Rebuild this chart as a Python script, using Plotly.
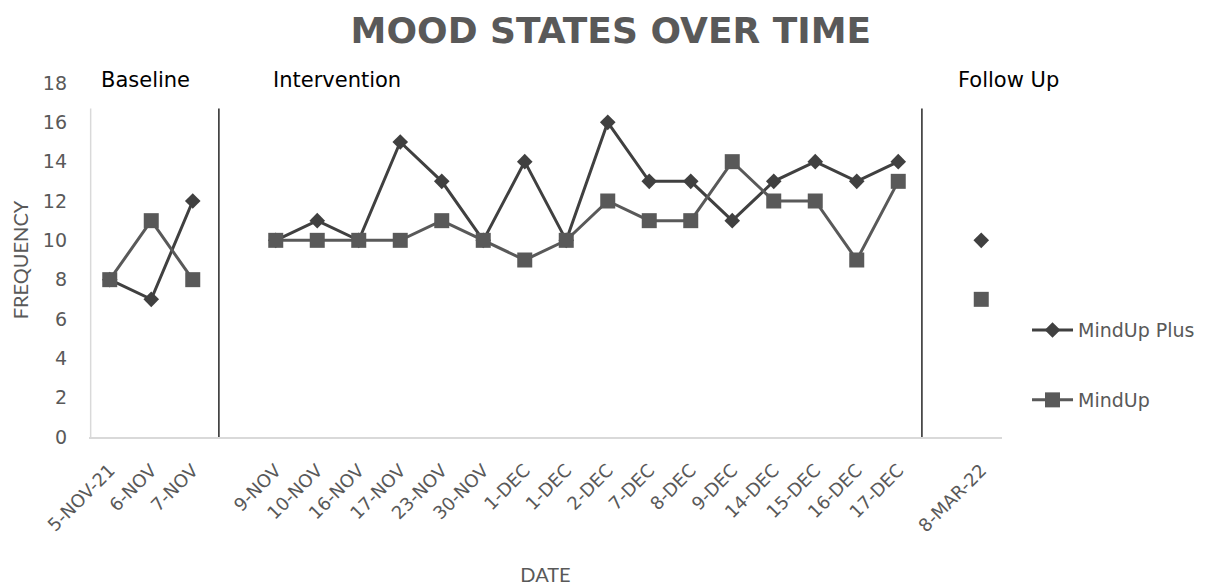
import plotly.graph_objects as go

# Categories (blank entries are the gaps between phases)
dates = ["5-NOV-21", "6-NOV", "7-NOV", "",
         "9-NOV", "10-NOV", "16-NOV", "17-NOV", "23-NOV", "30-NOV", "1-DEC", "1-DEC",
         "2-DEC", "7-DEC", "8-DEC", "9-DEC", "14-DEC", "15-DEC", "16-DEC", "17-DEC", "",
         "8-MAR-22"]

mindup_plus = [8, 7, 12, None,
               10, 11, 10, 15, 13, 10, 14, 10, 16, 13, 13, 11, 13, 14, 13, 14, None,
               10]
mindup = [8, 11, 8, None,
          10, 10, 10, 10, 11, 10, 9, 10, 12, 11, 11, 14, 12, 12, 9, 13, None,
          7]

phases = ["Baseline", "Intervention", "Follow Up"]
phase_label_x = [0.0624, 0.2716, 1.0066]   # paper fractions
phase_dividers = [2.63, 19.57]              # in category-index units

y_ticks = list(range(0, 19, 2))

x_idx = list(range(len(dates)))
tick_idx = [i for i, d in enumerate(dates) if d]
tick_txt = [dates[i] for i in tick_idx]

FONT = "DejaVu Sans, sans-serif"

fig = go.Figure()
fig.add_trace(go.Scatter(
    x=x_idx, y=mindup_plus, name="MindUp Plus", mode="lines+markers",
    line=dict(color="#404040", width=3),
    marker=dict(symbol="diamond", size=12, color="#404040"),
    connectgaps=False, legend="legend", cliponaxis=False))
fig.add_trace(go.Scatter(
    x=x_idx, y=mindup, name="MindUp", mode="lines+markers",
    line=dict(color="#595959", width=3),
    marker=dict(symbol="square", size=15, color="#595959"),
    connectgaps=False, legend="legend2", cliponaxis=False))

# Divider lines
fig.add_shape(type="line", xref="x", yref="y", x0=-0.46, x1=-0.46, y0=0, y1=16.7,
              line=dict(color="#d9d9d9", width=1.5))
for xd in phase_dividers:
    fig.add_shape(type="line", xref="x", yref="y", x0=xd, x1=xd, y0=0, y1=16.7,
                  line=dict(color="#262626", width=1.5))

for name, xp in zip(phases, phase_label_x):
    fig.add_annotation(x=xp, y=1.008, xref="paper", yref="paper", text=name, showarrow=False,
                       font=dict(family=FONT, size=21, color="#000000"),
                       xanchor="center", yanchor="middle")

fig.update_layout(
    width=1213, height=578,
    paper_bgcolor="white", plot_bgcolor="white",
    margin=dict(l=81, r=219, t=75, b=149, autoexpand=False),
    title=dict(text="<b>MOOD STATES OVER TIME</b>", x=0.497, xanchor="center",
               y=0.962, yanchor="middle",
               font=dict(family="DejaVu Sans, sans-serif", size=36, color="#595959")),
    xaxis=dict(range=[-0.5, 21.5], tickmode="array", tickvals=tick_idx, ticktext=tick_txt,
               tickangle=-45, showgrid=False, zeroline=False, showline=True,
               linecolor="#d9d9d9", linewidth=1.5, ticks="", ticklabelstandoff=14,
               automargin=False,
               tickfont=dict(family=FONT, size=18, color="#595959"),
               title=dict(text="DATE", standoff=40,
                          font=dict(family="Lato, sans-serif", size=20, color="#595959"))),
    yaxis=dict(range=[0, 18], tickmode="array", tickvals=y_ticks, showgrid=False,
               zeroline=False, showline=False, ticks="", ticklabelstandoff=21,
               automargin=False,
               tickfont=dict(family=FONT, size=19, color="#595959"),
               title=dict(text="FREQUENCY", standoff=14,
                          font=dict(family="Lato, sans-serif", size=20, color="#595959"))),
    legend=dict(x=1.0274, y=0.302, xanchor="left", yanchor="middle", bgcolor="rgba(0,0,0,0)",
                itemwidth=41,
                font=dict(family=FONT, size=19, color="#595959")),
    legend2=dict(x=1.0274, y=0.1045, xanchor="left", yanchor="middle", bgcolor="rgba(0,0,0,0)",
                 itemwidth=41,
                 font=dict(family=FONT, size=19, color="#595959")),
    showlegend=True,
)

fig.write_html("out.html")
